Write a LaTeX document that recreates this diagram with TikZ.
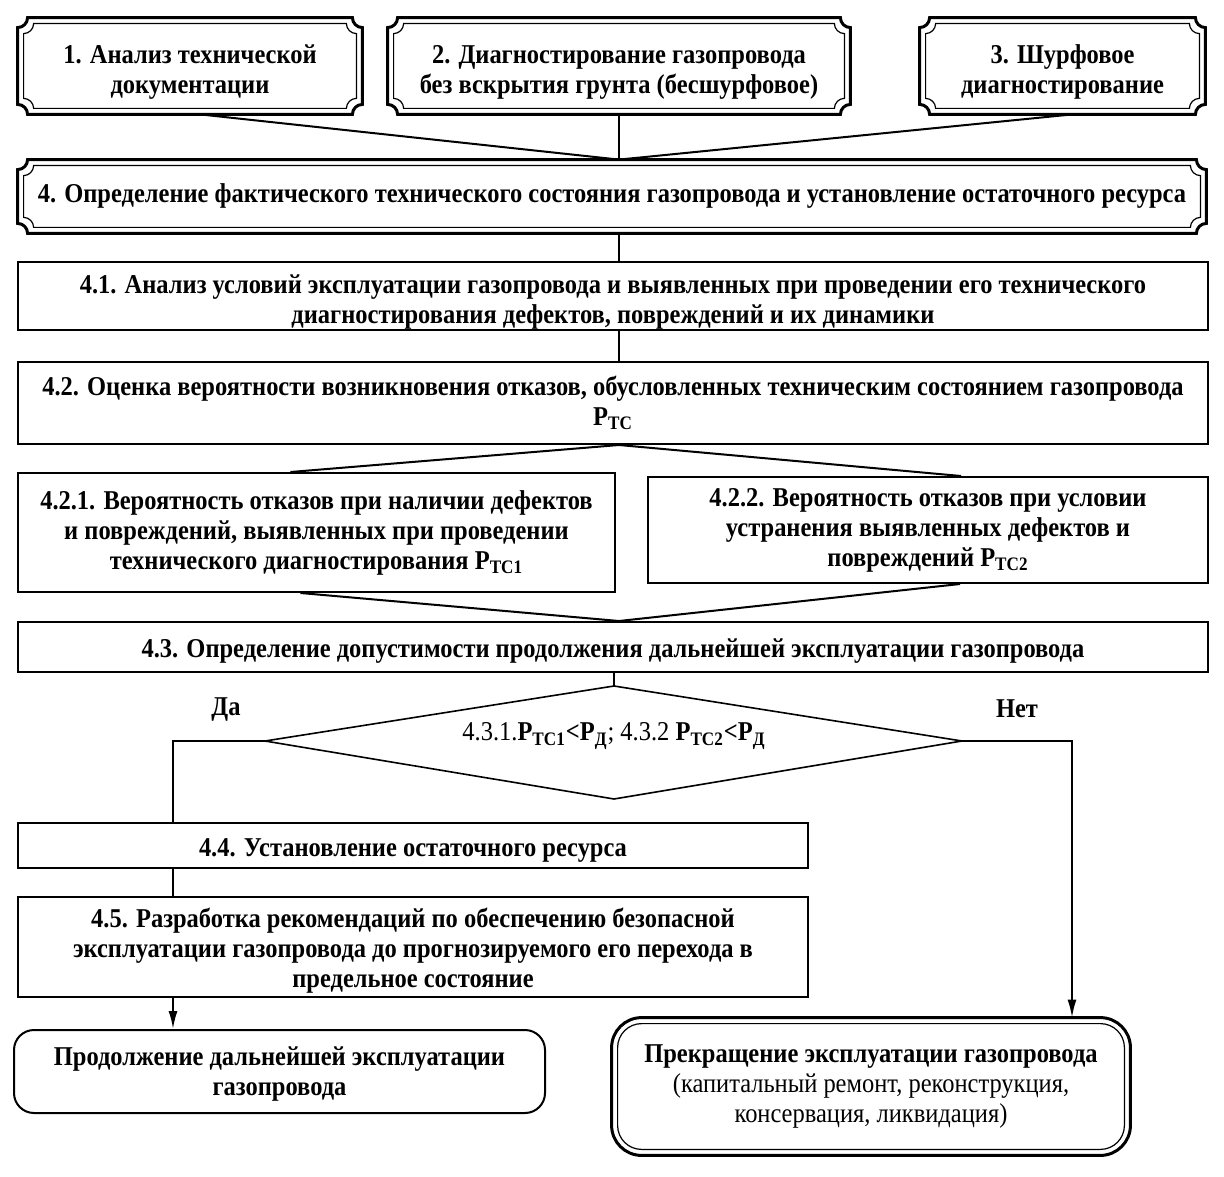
\documentclass[tikz,border=0pt]{standalone}
\usepackage{fontspec}
\setmainfont{Liberation Serif}[FakeStretch=0.9]
\usetikzlibrary{calc,arrows.meta}
\newcommand\fs{\fontsize{13.6}{15}\selectfont}
\tikzset{
 box/.style={draw, line width=1pt, rectangle, inner sep=0pt, align=center, font=\fs\bfseries,
   execute at begin node={\rule{0pt}{13.5pt}}},
 frame/.style={draw, line width=1pt, rectangle, inner sep=0pt},
 plain/.style={rectangle, inner sep=0pt, align=center, font=\fs\bfseries},
 txt/.style={inner sep=0pt, align=center, font=\fs\bfseries},
 conn/.style={line width=1pt},
 arr/.style={line width=1pt, -{Latex[length=9pt,width=4.5pt]}},
 thickframe/.style={line width=1.5pt},
 thinframe/.style={line width=0.6pt},
}
\newcommand\notch[4]{%
 \draw[#4] let \p1=(#1.north west), \p2=(#1.south east) in
 (\x1+#2, \y1-#2-#3) .. controls (\x1+#2+0.55*#3, \y1-#2-#3) and (\x1+#2+#3, \y1-#2-0.55*#3) .. (\x1+#2+#3, \y1-#2)
 -- (\x2-#2-#3, \y1-#2) .. controls (\x2-#2-#3, \y1-#2-0.55*#3) and (\x2-#2-0.55*#3, \y1-#2-#3) .. (\x2-#2, \y1-#2-#3)
 -- (\x2-#2, \y2+#2+#3) .. controls (\x2-#2-0.55*#3, \y2+#2+#3) and (\x2-#2-#3, \y2+#2+0.55*#3) .. (\x2-#2-#3, \y2+#2)
 -- (\x1+#2+#3, \y2+#2) .. controls (\x1+#2+#3, \y2+#2+0.55*#3) and (\x1+#2+0.55*#3, \y2+#2+#3) .. (\x1+#2, \y2+#2+#3)
 -- cycle;}
\newcommand\dbl[1]{\notch{#1}{0pt}{5pt}{thickframe}\notch{#1}{3pt}{5pt}{thinframe}}
\begin{document}
\begin{tikzpicture}[x=0.5pt,y=-0.5pt]
\useasboundingbox (0,0) rectangle (1224,1176);
% top boxes
\node[plain, minimum width=172pt, minimum height=48pt] (b1) at (190,66) {};
\node[plain, minimum width=231pt, minimum height=48pt] (b2) at (619,66) {};
\node[plain, minimum width=142.5pt, minimum height=48pt] (b3) at (1062.5,66) {};
\node[txt] (b1t) at ($(b1)+(0,6)$) {1. Анализ технической\\документации};
\node[txt] (b2t) at ($(b2)+(0,6)$) {2. Диагностирование газопровода\\без вскрытия грунта (бесшурфовое)};
\node[txt] (b3t) at ($(b3)+(0,6)$) {3. Шурфовое\\диагностирование};
\node[plain, minimum width=594pt, minimum height=36.5pt] (b4) at (612,196.5) {4. Определение фактического технического состояния газопровода и установление остаточного ресурса};
\dbl{b1}\dbl{b2}\dbl{b3}\dbl{b4}
% plain boxes
\node[frame, minimum width=595pt, minimum height=34pt] (b41) at (613,296) {};
\node[txt] (b41t) at ($(b41)+(0,6)$) {4.1. Анализ условий эксплуатации газопровода и выявленных при проведении его технического\\диагностирования дефектов, повреждений и их динамики};
\node[box, minimum width=595pt, minimum height=41pt] (b42) at (613,403) {4.2. Оценка вероятности возникновения отказов, обусловленных техническим состоянием газопровода\\P\textsubscript{ТС}};
\node[box, minimum width=298.5pt, minimum height=59.5pt] (b421) at (316.5,532.5) {4.2.1. Вероятность отказов при наличии дефектов\\и повреждений, выявленных при проведении\\технического диагностирования P\textsubscript{ТС1}};
\node[box, minimum width=280pt, minimum height=53pt] (b422) at (928,530) {4.2.2. Вероятность отказов при условии\\устранения выявленных дефектов и\\повреждений P\textsubscript{ТС2}};
\node[box, minimum width=595pt, minimum height=25pt] (b43) at (613,647) {4.3. Определение допустимости продолжения дальнейшей эксплуатации газопровода};
\node[box, minimum width=395pt, minimum height=22.5pt] (b44) at (413,845.5) {4.4. Установление остаточного ресурса};
\node[frame, minimum width=395pt, minimum height=50pt] (b45) at (413,947) {};
\node[txt] (b45t) at ($(b45)+(0,4)$) {4.5. Разработка рекомендаций по обеспечению безопасной\\эксплуатации газопровода до прогнозируемого его перехода в\\предельное состояние};
% bottom boxes
\node[frame, rounded corners=10pt, minimum width=265.5pt, minimum height=41.5pt] (bl) at (279.5,1071.5) {};
\node[txt] (blt) at ($(bl)+(0,3)$) {Продолжение дальнейшей эксплуатации\\газопровода};
\node[plain, minimum width=259pt, minimum height=68.5pt] (br) at (871,1086.5) {Прекращение эксплуатации газопровода\\\mdseries (капитальный ремонт, реконструкция,\\\mdseries консервация, ликвидация)};
\draw[thickframe, rounded corners=15pt] (br.north west) rectangle (br.south east);
\draw[thinframe, rounded corners=12pt] ($(br.north west)+(6,6)$) rectangle ($(br.south east)+(-6,-6)$);
% diamond
\coordinate (dt) at (614,686);
\coordinate (dl) at (265,741);
\coordinate (dr) at (962,741);
\coordinate (db) at (614,799);
\draw[line width=0.8pt] (dt) -- (dr) -- (db) -- (dl) -- cycle;
\node[font=\fs, inner sep=0pt] (dtext) at (614,736) {4.3.1.\textbf{P\textsubscript{ТС1}<P\textsubscript{Д}}; 4.3.2 \textbf{P\textsubscript{ТС2}<P\textsubscript{Д}}};
\node[font=\fs\bfseries, inner sep=0pt] (da) at (226,709) {Да};
\node[font=\fs\bfseries, inner sep=0pt] (net) at (1017,709) {Нет};
% connectors
\coordinate (j4) at (b2.south |- b4.north);
\draw[conn] ($(b1.south)+(10,0)$) -- (j4);
\draw[conn] (b2.south) -- (j4);
\draw[conn] ($(b3.south)+(10,0)$) -- (j4);
\draw[conn] (b4.south -| j4) -- (b41.north -| j4);
\draw[conn] (b41.south -| j4) -- (b42.north -| j4);
\draw[conn] (b42.south -| j4) -- ($(b421.north)+(-26,0)$);
\draw[conn] (b42.south -| j4) -- ($(b422.north)+(33,0)$);
\coordinate (j43) at (b43.north -| j4);
\draw[conn] ($(b421.south)+(-16,0)$) -- (j43);
\draw[conn] ($(b422.south)+(32,0)$) -- (j43);
\draw[conn] (b43.south -| dt) -- (dt);
\coordinate (xl) at (173,0);
\coordinate (xr) at (1072,0);
\draw[conn] (dl) -| (b44.north -| xl);
\draw[conn] (b44.south -| xl) -- (b45.north -| xl);
\draw[arr] (b45.south -| xl) -- (bl.north -| xl);
\draw[arr] (dr) -| (br.north -| xr);
\end{tikzpicture}
\end{document}
